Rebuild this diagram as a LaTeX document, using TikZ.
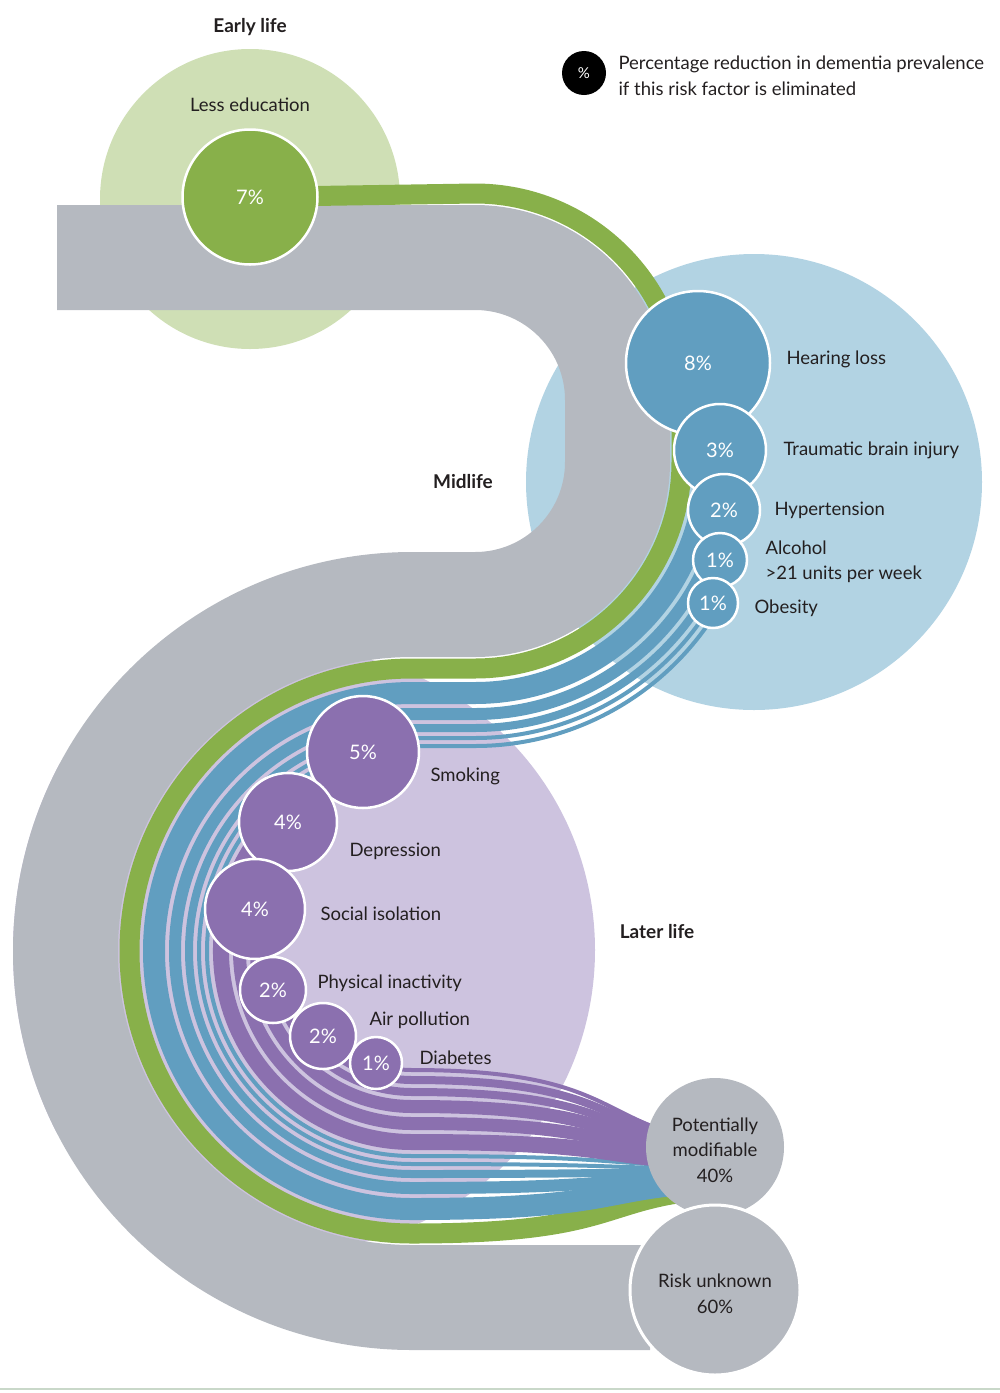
\documentclass[tikz,border=0pt]{standalone}
\usepackage{fontspec}
\setmainfont{Lato}
\usetikzlibrary{calc}
\definecolor{bandgray}{HTML}{B5B9C0}
\definecolor{edugreen}{HTML}{88B04A}
\definecolor{earlybg}{HTML}{CFDFB5}
\definecolor{midblue}{HTML}{619EC0}
\definecolor{midbg}{HTML}{B2D3E3}
\definecolor{laterpurple}{HTML}{8B70AF}
\definecolor{laterbg}{HTML}{CDC3DF}
\definecolor{ink}{HTML}{231F20}
\definecolor{rulecol}{HTML}{C9D8C9}
\newcommand{\labfont}{\fontsize{18.5}{22}\selectfont}
\newcommand{\pctfont}{\fontsize{20}{22}\selectfont}
\newcommand{\headfont}{\fontsize{19}{22}\selectfont\bfseries}
\newcommand{\flowarc}[1]{-- ($(C2)+(-90:{294-#1})$) arc[start angle=-90, end angle=-270, radius={294-#1}]}
\newcommand{\flowend}[1]{.. controls +(185,0) and +(-80,{0.3*((1245-#1)-(1193-0.355*(#1-11.5)))}) .. ($(pm)+(-35,{46-0.355*(#1-11.5)})$)}
\tikzset{
  flow/.style={line cap=butt, line join=round},
  dot/.style={circle, draw=white, line width=2.5, inner sep=0pt, text=white, font=\pctfont},
  lbl/.style={anchor=base west, text=ink, font=\labfont},
  head/.style={anchor=base, text=ink, font=\headfont},
}
\begin{document}
\begin{tikzpicture}[x=1pt, y=-1pt, line join=round]
\useasboundingbox (0,0) rectangle (1000,1393);
\coordinate (C1a) at (475,400);
\coordinate (C1b) at (475,462);
\coordinate (C2) at (412,951);
\coordinate (edu) at (250,197);
\coordinate (pm) at (715,1147);
\coordinate (ru) at (715,1290);
\fill[earlybg] (250,199) circle[radius=150];
\fill[midbg] (754,482) circle[radius=228];
\begin{scope}
\clip (C2) circle[radius=399];
\fill[laterbg] (295,950) circle[radius=300];
\end{scope}
\draw[rulecol, line width=2] (0,1389) -- (1000,1389);
\draw[flow, bandgray, line width=105] (57,257.5) -- ($(C1a)+(-90:142.5)$) arc[start angle=-90, end angle=0, radius=142.5] -- ($(C1b)+(0:142.5)$) arc[start angle=0, end angle=90, radius=142.5] -- ($(C2)+(-90:346.5)$) arc[start angle=-90, end angle=-270, radius=346.5] -- (650,1297.5);
\draw[flow, edugreen, line width=20] (edu) -- ($(C1a)+(-90:206.5)$) arc[start angle=-90, end angle=0, radius=206.5] -- ($(C1b)+(0:206.5)$) arc[start angle=0, end angle=90, radius=206.5] \flowarc{11.5} \flowend{11.5};
\foreach \s/\w/\a in {36/22/-9.4, 57/12/-5}
  \draw[flow, midblue, line width=\w] ($(C1a)+(\a:{195+\s})$) arc[start angle=\a, end angle=0, radius={195+\s}] -- ($(C1b)+(0:{195+\s})$) arc[start angle=0, end angle=90, radius={195+\s}] \flowarc{\s} \flowend{\s};
\foreach \s/\w/\a in {71/8/10.9, 81/4/21.8, 89/4/30.6}
  \draw[flow, midblue, line width=\w] ($(C1b)+(\a:{195+\s})$) arc[start angle=\a, end angle=90, radius={195+\s}] \flowarc{\s} \flowend{\s};
\foreach \s/\w/\a in {103/16/-103.8, 121.5/13/-133.9, 138.5/13/-165, 153/8/-195.7, 165/8/-223.7, 175/4/-252.2}
  \draw[flow, laterpurple, line width=\w] ($(C2)+(\a:{294-\s})$) arc[start angle=\a, end angle=-270, radius={294-\s}] \flowend{\s};
\node[dot, fill=edugreen, minimum size=135] (educ) at (edu) {7\%};
\foreach \n/\x/\y/\r/\p in {hearing/698/363/72/8, tbi/720/450/46/3, hyper/724/510/36/2, alcohol/720/560/27/1, obesity/713/603/25/1}
  \node[dot, fill=midblue, minimum size=2*\r] (\n) at (\x,\y) {\p\%};
\foreach \n/\x/\y/\r/\p in {smoking/363/752/56/5, depress/288/822/49/4, isolate/255/909/50/4, inactive/273/990/33/2, airpol/323/1036/33/2, diabetes/376/1063/26/1}
  \node[dot, fill=laterpurple, minimum size=2*\r] (\n) at (\x,\y) {\p\%};
\node[circle, fill=bandgray, minimum size=138, inner sep=0pt] (pmod) at (pm) {};
\node[circle, fill=bandgray, draw=white, line width=3, minimum size=170, inner sep=0pt] (risk) at (ru) {};
\node[circle, fill=black, minimum size=44, inner sep=0pt, text=white, font=\fontsize{15}{17}\selectfont] (key) at (584,73) {\%};
\node[lbl] (key1) at (615,69) {Percentage reduction in dementia prevalence};
\node[lbl] (key2) at (615,95) {if this risk factor is eliminated};
\node[head] (early) at (250,32) {Early life};
\node[head] (mid) at (463,488) {Midlife};
\node[head] (later) at (657,938) {Later life};
\node[lbl, anchor=base] (lessed) at (250,111) {Less education};
\foreach \n/\x/\y/\t in {hearl/783/364/Hearing loss, tbil/780/455/Traumatic brain injury, hyperl/771/515/Hypertension, alcl/762/554/Alcohol, alcl2/762/579/>21 units per week, obl/751/613/Obesity, smokl/427/781/Smoking, depl/346/856/Depression, isol/317/920/Social isolation, inactl/314/988/Physical inactivity, airl/366/1025/Air pollution, diabl/416/1064/Diabetes}
  \node[lbl] (\n) at (\x,\y) {\t};
\node[lbl, anchor=base] (pm1) at (715,1131) {Potentially};
\node[lbl, anchor=base] (pm2) at (715,1156) {modifiable};
\node[lbl, anchor=base] (pm3) at (715,1182) {40\%};
\node[lbl, anchor=base] (ru1) at (715,1287) {Risk unknown};
\node[lbl, anchor=base] (ru2) at (715,1313) {60\%};
\end{tikzpicture}
\end{document}
